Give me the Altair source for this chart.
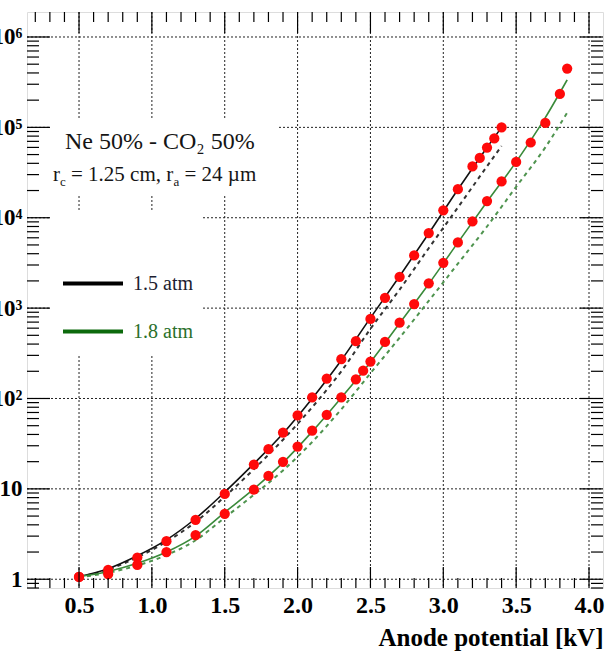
import altair as alt
import pandas as pd

# Measured gas gain vs anode potential, Ne 50% - CO2 50%
volt_15 = [0.5, 0.7, 0.9, 1.1, 1.3, 1.5, 1.7, 1.8, 1.9, 2.0, 2.1, 2.2, 2.3, 2.4, 2.5,
           2.6, 2.7, 2.8, 2.9, 3.0, 3.1, 3.2, 3.25, 3.3, 3.35, 3.4]
gain_15 = [1.06, 1.27, 1.74, 2.64, 4.55, 8.8, 18.6, 27.5, 42, 65, 103, 166, 272, 430, 760,
           1300, 2220, 3830, 6760, 12100, 20700, 36900, 45900, 59800, 75300, 100000]

volt_18 = [0.5, 0.7, 0.9, 1.1, 1.3, 1.5, 1.7, 1.8, 1.9, 2.0, 2.1, 2.2, 2.3, 2.4, 2.45, 2.5,
           2.6, 2.7, 2.8, 2.9, 3.0, 3.1, 3.2, 3.3, 3.4, 3.5, 3.6, 3.7, 3.8, 3.85]
gain_18 = [1.06, 1.14, 1.44, 2.0, 3.08, 5.3, 9.8, 13.9, 19.9, 29.4, 44, 66, 103, 163, 203, 256,
           422, 690, 1110, 1880, 3170, 5330, 9110, 15300, 25200, 41500, 68000, 112000, 234000, 447000]

# Fit curves (solid) and calculated curves (dashed)
fit_volt_15 = [0.5, 0.7, 0.9, 1.1, 1.3, 1.5, 1.7, 1.9, 2.1, 2.3, 2.5, 2.7, 2.9, 3.1, 3.3, 3.4]
fit_gain_15 = [1.07, 1.31, 1.82, 2.73, 4.7, 9.2, 19, 41, 100, 265, 780, 2250, 6700, 20500, 60000, 100000]
calc_gain_15 = [1.06, 1.28, 1.75, 2.6, 4.3, 8.2, 16.5, 35, 80, 200, 590, 1600, 4600, 13000, 37000, 62000]

fit_volt_18 = [0.5, 0.7, 0.9, 1.1, 1.3, 1.5, 1.7, 1.9, 2.1, 2.3, 2.5, 2.7, 2.9, 3.1, 3.3, 3.5, 3.7, 3.85]
fit_gain_18 = [1.07, 1.22, 1.5, 2.0, 3.0, 5.5, 10, 19.5, 43, 102, 252, 680, 1850, 5300, 15000, 41500, 128000, 335000]
calc_gain_18 = [1.05, 1.18, 1.42, 1.85, 2.7, 4.8, 8.6, 16, 33, 76, 190, 470, 1200, 3100, 8000, 22000, 60000, 145000]

# Axis ticks
x_major = [0.5, 1.0, 1.5, 2.0, 2.5, 3.0, 3.5, 4.0]
x_minor = [round(0.1 * i, 1) for i in range(2, 41) if i % 5]
y_major = [1, 10, 100, 1000, 10000, 100000, 1000000]
y_labels = ["1", "10", "10²", "10³", "10⁴", "10⁵", "10⁶"]
y_minor = [m * 10 ** d for d in range(-1, 7) for m in range(2, 10)
           if 0.8 <= m * 10 ** d <= 1.89e6]

W, H = 576, 576
FONT = "Liberation Serif"
GREEN = "#3a8a3a"
GREEN_DARK = "#0c6a0c"

xs = alt.Scale(domain=[0.143, 4.096], nice=False, zero=False)
ys = alt.Scale(type="log", domain=[0.8, 1.89e6], nice=False)

label_expr = " : ".join(
    f"datum.value < {v * 3} ? '{t}'" for v, t in zip(y_major[:-1], y_labels[:-1])
) + f" : '{y_labels[-1]}'"

x_axis = alt.Axis(values=x_major, format=".1f", grid=False, ticks=False, domain=False,
                  labelFont=FONT, labelFontWeight="bold", labelFontSize=24, labelColor="black",
                  labelPadding=5, title="Anode potential [kV]", titleFont=FONT,
                  titleFontWeight="bold", titleFontSize=25, titleColor="black",
                  titleAnchor="end", titleAlign="right", titlePadding=8)
y_axis = alt.Axis(values=y_major, labelExpr=label_expr, grid=False, ticks=False, domain=False,
                  labelFont=FONT, labelFontWeight="bold", labelFontSize=23, labelColor="black",
                  labelPadding=5, title=None)

points = pd.concat([
    pd.DataFrame({"v": volt_15, "g": gain_15, "s": "1.5"}),
    pd.DataFrame({"v": volt_18, "g": gain_18, "s": "1.8"}),
])
curves = pd.concat([
    pd.DataFrame({"v": fit_volt_15, "g": fit_gain_15, "c": "fit15"}),
    pd.DataFrame({"v": fit_volt_15, "g": calc_gain_15, "c": "calc15"}),
    pd.DataFrame({"v": fit_volt_18, "g": fit_gain_18, "c": "fit18"}),
    pd.DataFrame({"v": fit_volt_18, "g": calc_gain_18, "c": "calc18"}),
])

base_x = alt.X("v:Q", scale=xs, axis=x_axis)
base_y = alt.Y("g:Q", scale=ys, axis=y_axis)

# Dotted grid
grid_x = alt.Chart(pd.DataFrame({"v": x_major})).mark_rule(
    color="#222", strokeWidth=1, strokeDash=[2, 2]
).encode(x=alt.X("v:Q", scale=xs, axis=x_axis), y=alt.value(0), y2=alt.value(H))
grid_y = alt.Chart(pd.DataFrame({"g": y_major})).mark_rule(
    color="#222", strokeWidth=1, strokeDash=[2, 2]
).encode(y=alt.Y("g:Q", scale=ys, axis=y_axis), x=alt.value(0), x2=alt.value(W))

# White boxes behind the caption and the legend
box_caption = alt.Chart(pd.DataFrame({"k": [0]})).mark_rect(color="white").encode(
    x=alt.value(24), x2=alt.value(250), y=alt.value(108), y2=alt.value(182))
box_legend = alt.Chart(pd.DataFrame({"k": [0]})).mark_rect(color="white").encode(
    x=alt.value(24), x2=alt.value(176), y=alt.value(198), y2=alt.value(342))


def curve(name, color, width, dash=None):
    kw = dict(color=color, strokeWidth=width, interpolate="monotone")
    if dash:
        kw["strokeDash"] = dash
    return alt.Chart(curves[curves.c == name]).mark_line(**kw).encode(
        x=base_x, y=base_y, order="v:Q")


lines = [
    curve("calc15", "#333333", 2, [4, 4]),
    curve("calc18", "#4f944f", 2, [4, 4]),
    curve("fit15", "#111111", 1.6),
    curve("fit18", GREEN, 1.6),
]

dots = alt.Chart(points).mark_point(filled=True, color="#ff0a0a", size=105, opacity=1).encode(
    x=base_x, y=base_y)


# Inside ticks on all four sides
def xticks(vals, length):
    d = pd.DataFrame({"v": vals})
    bottom = alt.Chart(d).mark_rule(color="black", strokeWidth=1.2).encode(
        x=alt.X("v:Q", scale=xs, axis=x_axis), y=alt.value(H), y2=alt.value(H - length))
    top = alt.Chart(d).mark_rule(color="black", strokeWidth=1.2).encode(
        x=alt.X("v:Q", scale=xs, axis=x_axis), y=alt.value(0), y2=alt.value(length))
    return [bottom, top]


def yticks(vals, length):
    d = pd.DataFrame({"g": vals})
    left = alt.Chart(d).mark_rule(color="black", strokeWidth=1.2).encode(
        y=alt.Y("g:Q", scale=ys, axis=y_axis), x=alt.value(0), x2=alt.value(length))
    right = alt.Chart(d).mark_rule(color="black", strokeWidth=1.2).encode(
        y=alt.Y("g:Q", scale=ys, axis=y_axis), x=alt.value(W), x2=alt.value(W - length))
    return [left, right]


ticks = xticks(x_major, 21) + xticks(x_minor, 10) + yticks(y_major, 23) + yticks(y_minor, 12)


def label(text, x, y, size, color="#151515", baseline="alphabetic"):
    return alt.Chart(pd.DataFrame({"k": [0]})).mark_text(
        text=text, font=FONT, fontSize=size, color=color, align="left", baseline=baseline
    ).encode(x=alt.value(x), y=alt.value(y))


caption = [
    label("Ne 50% - CO₂ 50%", 38, 137, 24),
    label("r", 26, 169, 21),
    label("c", 33, 174, 13),
    label("= 1.25 cm, r", 44, 169, 21),
    label("a", 146.5, 174, 13),
    label("= 24 µm", 157.5, 169, 21),
]

legend = [
    alt.Chart(pd.DataFrame({"k": [0]})).mark_rule(color="black", strokeWidth=4).encode(
        x=alt.value(36), x2=alt.value(96), y=alt.value(271.5)),
    alt.Chart(pd.DataFrame({"k": [0]})).mark_rule(color=GREEN_DARK, strokeWidth=4).encode(
        x=alt.value(36), x2=alt.value(96), y=alt.value(319.5)),
    label("1.5 atm", 106, 272, 20, color="#1d1d30", baseline="middle"),
    label("1.8 atm", 106, 320, 20, color="#2a702a", baseline="middle"),
]

chart = alt.layer(
    grid_x, grid_y, box_caption, box_legend, *lines, dots, *ticks, *caption, *legend
).properties(
    width=W, height=H,
    autosize=alt.AutoSizeParams(type="none"),
    padding={"left": 27, "top": 12, "right": 13, "bottom": 68},
).configure_view(
    stroke="black", strokeWidth=2.5
).configure(background="white")

chart.save("out.html", embed_options={"renderer": "svg", "actions": False})
